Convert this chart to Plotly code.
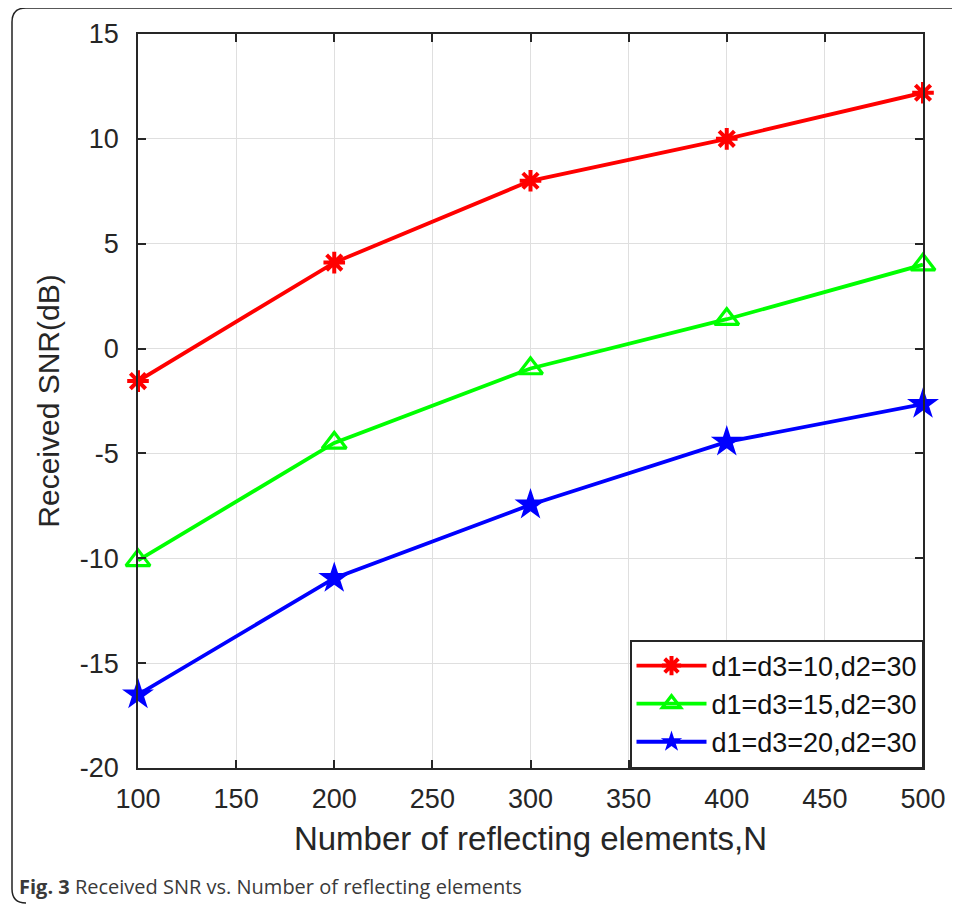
import plotly.graph_objects as go

N = [100, 200, 300, 400, 500]
snr_10 = [-1.55, 4.1, 8.0, 10.0, 12.2]
snr_15 = [-10.1, -4.5, -0.95, 1.4, 4.0]
snr_20 = [-16.5, -10.95, -7.45, -4.45, -2.65]
names = ["d1=d3=10,d2=30", "d1=d3=15,d2=30", "d1=d3=20,d2=30"]
x_ticks = [100, 150, 200, 250, 300, 350, 400, 450, 500]
y_ticks = [-20, -15, -10, -5, 0, 5, 10, 15]
y_ticktext = ["-20", "-15", "-10", "-5", "0", "5", "10", "15"]

# page has an 8px body margin; figure is sized so that it fills the 960x906 window
OFF = 8
W, H = 960 - OFF, 906 - OFF
L, R, T, B = 138 - OFF, 37, 34 - OFF, 138
pw, ph = W - L - R, H - T - B

def px(x):
    return (x - OFF - L) / pw

def py(y):
    return (H - B - (y - OFF)) / ph

FONT = "Liberation Sans, Arial, Helvetica"

fig = go.Figure()
fig.add_trace(go.Scatter(x=N, y=snr_10, name=names[0], mode="lines+markers", cliponaxis=False,
                         line=dict(color="#ff0000", width=3.8),
                         marker=dict(symbol="asterisk-open", size=18,
                                     line=dict(color="#ff0000", width=4))))
fig.add_trace(go.Scatter(x=N, y=snr_15, name=names[1], mode="lines+markers", cliponaxis=False,
                         line=dict(color="#00ff00", width=3.8),
                         marker=dict(symbol="triangle-up-open", size=21, color="#00ff00",
                                     line=dict(color="#00ff00", width=3.2))))
fig.add_trace(go.Scatter(x=N, y=snr_20, name=names[2], mode="lines+markers", cliponaxis=False,
                         line=dict(color="#0000ff", width=3.8),
                         marker=dict(symbol="star", size=24, color="#0000ff",
                                     line=dict(color="#0000ff", width=0))))

axis_common = dict(showline=True, linecolor="#262626", linewidth=1.5, mirror="ticks",
                   ticks="inside", ticklen=8, tickcolor="#262626", tickwidth=1.5,
                   showgrid=True, gridcolor="#dfdfdf", gridwidth=1, zeroline=False,
                   tickfont=dict(family=FONT, size=27, color="#262626"))

fig.update_xaxes(range=[100, 500], tickvals=x_ticks, ticklabelstandoff=6,
                 title=dict(text="Number of reflecting elements,N", standoff=14,
                            font=dict(family=FONT, size=33, color="#262626")),
                 **axis_common)
fig.update_yaxes(range=[-20, 15], tickvals=y_ticks, ticktext=y_ticktext, ticklabelstandoff=12,
                 title=dict(text="Received SNR(dB)", standoff=11,
                            font=dict(family=FONT, size=30, color="#262626")),
                 **axis_common)

# outer rounded frame (top and left edges, rounded corners)
x0, y0, x1, y1 = px(12), py(8), px(965), py(903)
rx = 14 / pw
ry = 14 / ph
path = (f"M {x0+rx},{y0} L {x1},{y0} "
        f"M {x0},{y0-ry} L {x0},{y1+ry} Q {x0},{y1} {x0+rx},{y1} "
        f"M {x0},{y0-ry} Q {x0},{y0} {x0+rx},{y0}")
fig.add_shape(type="path", path=path, xref="paper", yref="paper",
              line=dict(color="#222222", width=1.5), layer="above")

fig.add_annotation(text="<b>Fig. 3</b> Received SNR vs. Number of reflecting elements",
                   xref="paper", yref="paper", x=px(17), y=py(887), xanchor="left",
                   yanchor="middle", showarrow=False,
                   font=dict(family="Open Sans", size=20, color="#3a3a3a"))

fig.update_layout(
    width=W, height=H, margin=dict(l=L, r=R, t=T, b=B),
    paper_bgcolor="white", plot_bgcolor="white", showlegend=True,
    legend=dict(x=1, y=0, xanchor="right", yanchor="bottom",
                bgcolor="white", bordercolor="#262626", borderwidth=1.5,
                font=dict(family=FONT, size=27, color="#111111"),
                itemwidth=70, tracegroupgap=0),
)

fig.write_html("out.html")
